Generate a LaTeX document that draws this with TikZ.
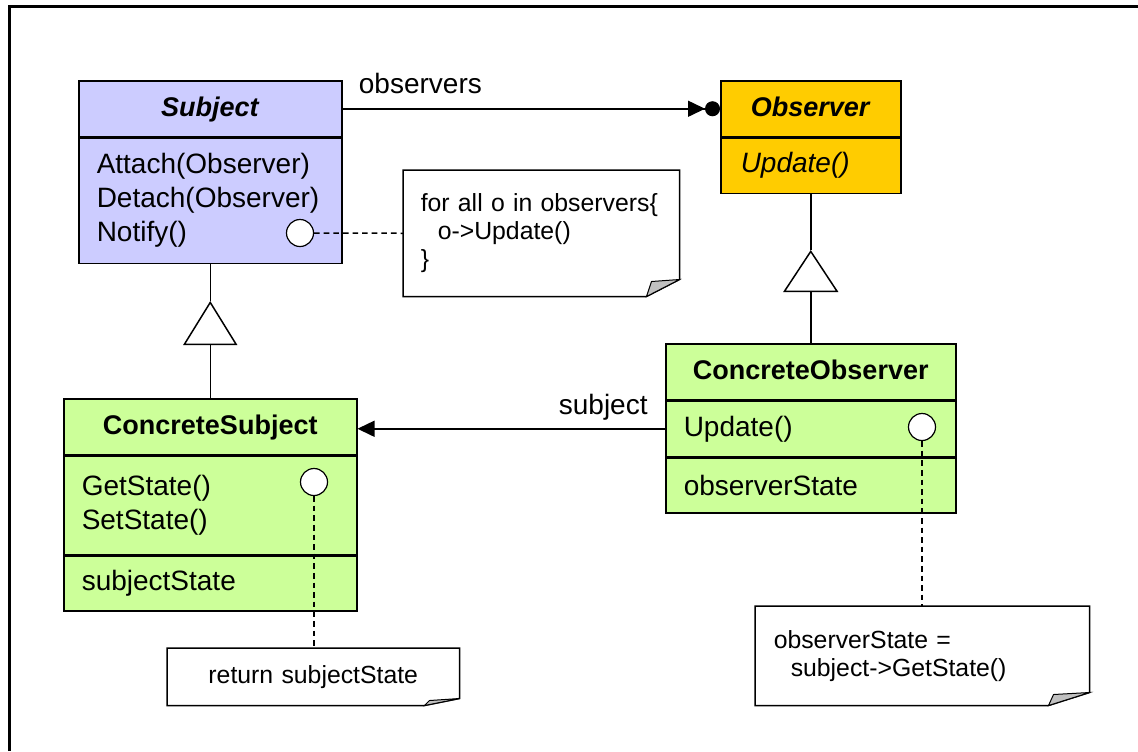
\documentclass[tikz,border=0pt]{standalone}
\usepackage{fontspec}
\setmainfont{Liberation Sans}
\usetikzlibrary{arrows.meta,positioning}
\definecolor{subjfill}{RGB}{204,204,255}
\definecolor{obsfill}{RGB}{255,204,0}
\definecolor{concfill}{RGB}{204,255,153}
\definecolor{earfill}{RGB}{192,192,192}
% note outline with a turned-down corner: node, fold width, fold height
\newcommand{\dogear}[3]{%
  \draw (#1.north west) -- (#1.north east) -- ([yshift=#3]#1.south east)
    -- ([xshift=-#2]#1.south east) -- (#1.south west) -- cycle;
  \filldraw[fill=earfill,line width=0.5pt] ([xshift=-#2]#1.south east)
    -- ([xshift=-#2+2.5pt,yshift=#3-1pt]#1.south east) -- ([yshift=#3]#1.south east) -- cycle;
}

\begin{document}
\begin{tikzpicture}[x=0.5pt,y=-0.5pt,line width=0.75pt,
  every node/.style={font=\fontsize{14}{17}\selectfont},
  classhead/.style={draw,anchor=north west,minimum height=28pt,text depth=2pt,
    font=\fontsize{13.5}{16}\selectfont\bfseries},
  classpart/.style={draw,below=0pt of #1,align=left,inner xsep=9pt,minimum height=27.5pt},
  opdot/.style={circle,draw,fill=white,line width=0.6pt,minimum size=13.5pt,inner sep=0pt},
  note/.style={anchor=north west,align=left,inner xsep=8.5pt,
    font=\fontsize{12.4}{14}\selectfont},
  notelink/.style={dash pattern=on 2.8pt off 2pt},
  inherit/.style={-{Triangle[open,length=21pt,width=27.5pt]}}]
\useasboundingbox (0,0) rectangle (1138,751);
\draw[line width=1.5pt] (9,751) -- (9,6) -- (1138,6);

% Subject
\node[classhead,fill=subjfill,minimum width=131.5pt] (subj) at (78,80) {\textit{Subject}};
\node[classpart=subj,fill=subjfill,text width=113.5pt,minimum height=62.5pt] (subjops)
  {Attach(Observer)\\Detach(Observer)\\Notify()};
\node[opdot] (notifydot) at (300,233) {};

% Observer
\node[classhead,fill=obsfill,minimum width=90pt] (obs) at (720,80) {\textit{Observer}};
\node[classpart=obs,fill=obsfill,text width=70pt,inner xsep=10pt] (obsops) {\textit{Update()}};

% ConcreteSubject
\node[classhead,fill=concfill,minimum width=146.5pt] (csubj) at (63,398) {ConcreteSubject};
\node[classpart=csubj,fill=concfill,text width=128.5pt,minimum height=49pt] (csubjops)
  {GetState()\\SetState()};
\node[classpart=csubjops,fill=concfill,text width=128.5pt] (csubjstate) {subjectState};
\node[opdot] (getdot) at (314,482) {};

% ConcreteObserver
\node[classhead,fill=concfill,minimum width=145pt] (cobs) at (665,343) {ConcreteObserver};
\node[classpart=cobs,fill=concfill,text width=127pt] (cobsops) {Update()};
\node[classpart=cobsops,fill=concfill,text width=127pt] (cobsstate) {observerState};
\node[opdot] (updot) at (922,427) {};

% notes
\node[note,minimum width=137.5pt,minimum height=62.5pt,text width=120.5pt] (notifynote) at (403,170)
  {for all o in observers\{\\\hspace*{8.5pt}o->Update()\\\}};
\dogear{notifynote}{16.5pt}{8.5pt}
\node[note,align=center,minimum width=145.5pt,minimum height=28pt,text width=128.5pt] (retnote) at (167,648)
  {return subjectState};
\dogear{retnote}{17.5pt}{3.5pt}
\node[note,minimum width=166.5pt,minimum height=49pt,text width=148.5pt,inner xsep=9pt] (statenote) at (755,606)
  {observerState =\\\hspace*{8.5pt}subject->GetState()};
\dogear{statenote}{20.5pt}{6.5pt}

% associations
\draw[-{Triangle[length=8.5pt,width=8pt]Circle[length=7.5pt]}] (subj.east) -- (obs.west)
  node[at start,anchor=base west,xshift=4.5pt,yshift=7.5pt] {observers};
\draw[-{Triangle[length=8.5pt,width=8pt]}] (cobsops.west) -- (cobsops.west -| csubj.east)
  node[at start,anchor=base east,xshift=-5pt,yshift=7pt] {subject};

% generalization
\coordinate (subjtri) at ([yshift=-18.5pt]subjops.south);
\draw (subjops.south) -- (subjtri);
\draw[-{Triangle[open,length=22pt,width=27pt]}] (csubj.north) -- (subjtri);
\coordinate (obstri) at ([yshift=-28pt]obsops.south);
\draw (obsops.south) -- (obstri);
\draw[inherit] (cobs.north) -- (obstri);

% note links
\draw[notelink] (notifydot.east) -- (notifynote.west);
\draw[notelink] (getdot.south) -- (getdot.south |- retnote.north);
\draw[notelink] (updot.south) -- (updot.south |- statenote.north);
\end{tikzpicture}
\end{document}
